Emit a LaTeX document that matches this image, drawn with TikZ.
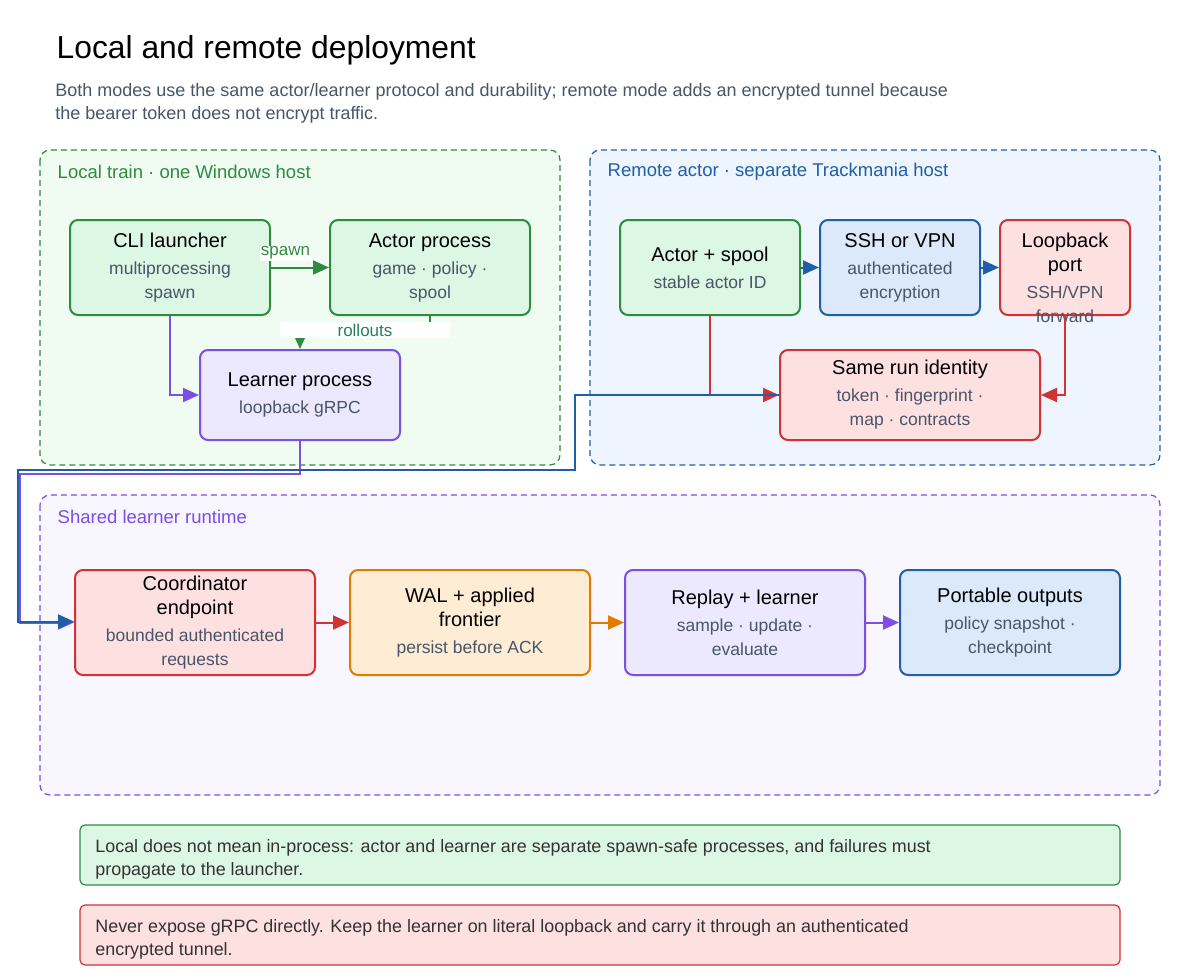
\documentclass[tikz,border=0pt]{standalone}
\usepackage{fontspec}
\setmainfont{Liberation Sans}
\usetikzlibrary{arrows.meta,positioning,calc}
\definecolor{gline}{HTML}{2E8B40}\definecolor{gfill}{HTML}{DCF7E3}
\definecolor{pline}{HTML}{7B4EE6}\definecolor{pfill}{HTML}{ECE8FD}
\definecolor{rline}{HTML}{D03333}\definecolor{rfill}{HTML}{FDE0E0}
\definecolor{oline}{HTML}{E07B00}\definecolor{ofill}{HTML}{FEECD5}
\definecolor{bline}{HTML}{1F5FA8}\definecolor{bfill}{HTML}{DBE9FB}
\definecolor{subtxt}{HTML}{4A5568}
\definecolor{gzone}{HTML}{F0FCF2}\definecolor{bzone}{HTML}{EEF5FE}\definecolor{pzone}{HTML}{F8F6FE}
\newcommand{\bigf}{\fontsize{20}{24}\selectfont}
\newcommand{\smf}{\fontsize{17.5}{23}\selectfont\color{subtxt}}
\begin{document}
\begin{tikzpicture}
[
x=1pt, y=-1pt, thick, >={Triangle[length=16pt,width=14pt]},
block/.style    = {draw=#1, line width=2pt, rounded corners=8pt, align=center, inner sep=2pt, text=black, font=\fontsize{17.5}{24}\selectfont},
group/.style    = {draw=#1, dash pattern=on 6pt off 4pt, line width=1.2pt, rounded corners=10pt},
note/.style     = {draw, line width=1.2pt, rounded corners=5pt},
link/.style     = {line width=2pt, ->},
]
\useasboundingbox (0,0) rectangle (1200,980);
\fill[white] (0,0) rectangle (1200,980);
\node[anchor=west, font=\fontsize{31.8}{36}\selectfont] (title) at (53,50) {Local and remote deployment};
\node[anchor=north west, align=left, text=subtxt, inner sep=0pt, font=\fontsize{18}{23}\selectfont] (sub) at (55,83) {Both modes use the same actor/learner protocol and durability; remote mode adds an encrypted tunnel because\\the bearer token does not encrypt traffic.};

% groups
\draw[group=gline, fill=gzone] (40,150) rectangle (560,465);
\draw[group=bline, fill=bzone] (590,150) rectangle (1160,465);
\draw[group=pline, fill=pzone] (40,495) rectangle (1160,795);
\node[anchor=west, text=gline, font=\fontsize{18.5}{22}\selectfont] (glocal) at (54,172) {Local train · one Windows host};
\node[anchor=west, text=bline, font=\fontsize{18.5}{22}\selectfont] (gremote) at (604,172) {Remote actor · separate Trackmania host};
\node[anchor=west, text=pline, font=\fontsize{18.5}{22}\selectfont] (gshared) at (54,517) {Shared learner runtime};

% local
\node[block=gline, fill=gfill, minimum width=200pt, minimum height=95pt] (cli) at (170,267.5) {\bigf CLI launcher\\[3pt]\smf multiprocessing\\\smf spawn};
\node[block=gline, fill=gfill, minimum width=200pt, minimum height=95pt] (actor) at (430,267.5) {\bigf Actor process\\[3pt]\smf game · policy ·\\\smf spool};
\node[block=pline, fill=pfill, minimum width=200pt, minimum height=90pt] (learner) at (300,395) {\bigf Learner process\\[3pt]\smf loopback gRPC};

% remote
\node[block=gline, fill=gfill, minimum width=180pt, minimum height=95pt] (aspool) at (710,267.5) {\bigf Actor + spool\\[3pt]\smf stable actor ID};
\node[block=bline, fill=bfill, minimum width=160pt, minimum height=95pt] (ssh) at (900,267.5) {\bigf SSH or VPN\\[3pt]\smf authenticated\\\smf encryption};
\node[block=rline, fill=rfill, minimum width=130pt, minimum height=95pt] (loop) at (1065,267.5) {};
\node[align=center, font=\fontsize{17.5}{24}\selectfont] (looptxt) at (1065,278) {\bigf Loopback\\\bigf port\\[3pt]\smf SSH/VPN\\\smf forward};
\node[block=rline, fill=rfill, minimum width=260pt, minimum height=90pt] (runid) at (910,395) {\bigf Same run identity\\[3pt]\smf token · fingerprint ·\\\smf map · contracts};

% shared
\node[block=rline, fill=rfill, minimum width=240pt, minimum height=105pt] (coord) at (195,622.5) {\bigf Coordinator\\\bigf endpoint\\[3pt]\smf bounded authenticated\\\smf requests};
\node[block=oline, fill=ofill, minimum width=240pt, minimum height=105pt] (wal) at (470,622.5) {\bigf WAL + applied\\\bigf frontier\\[3pt]\smf persist before ACK};
\node[block=pline, fill=pfill, minimum width=240pt, minimum height=105pt] (replay) at (745,622.5) {\bigf Replay + learner\\[3pt]\smf sample · update ·\\\smf evaluate};
\node[block=bline, fill=bfill, minimum width=220pt, minimum height=105pt] (out) at (1010,622.5) {\bigf Portable outputs\\[3pt]\smf policy snapshot ·\\\smf checkpoint};

% notes
\draw[note, gline, fill=gfill] (80,825) rectangle (1120,885);
\node[anchor=north west, align=left, inner sep=0pt, text=black!80, font=\fontsize{17.9}{23}\selectfont] (n1) at (95,839) {Local does not mean in-process: actor and learner are separate spawn-safe processes, and failures must\\propagate to the launcher.};
\draw[note, rline, fill=rfill] (80,905) rectangle (1120,965);
\node[anchor=north west, align=left, inner sep=0pt, text=black!80, font=\fontsize{17.9}{23}\selectfont] (n2) at (95,919) {Never expose gRPC directly. Keep the learner on literal loopback and carry it through an authenticated\\encrypted tunnel.};

% connectors
\draw[link, gline] (cli) -- node[above, pos=0.25, fill=white, inner sep=1pt, yshift=6pt, text=gline, font=\fontsize{17}{20}\selectfont] {spawn} (actor);
\draw[link, gline] (actor.south) |- (300,330) node[pos=0.75, fill=white, inner sep=2pt, minimum width=170pt, text=gline!70!bline, font=\fontsize{17}{20}\selectfont] {rollouts} -- (learner.north);
\draw[link, pline] (cli.south) |- (learner.west);
\draw[link, bline] (aspool) -- (ssh);
\draw[link, bline] (ssh) -- (loop);
\draw[link, rline] (aspool.south) |- (runid.west);
\draw[link, rline] (loop.south) |- (runid.east);
\draw[link, pline] (learner.south) -- (300,474) -- (20,474) |- (coord.west);
\draw[link, bline] (runid.west) -- (575,395) -- (575,470) -- (18,470) |- ($(coord.west)+(0,-1)$);
\draw[link, rline] (coord) -- (wal);
\draw[link, oline] (wal) -- (replay);
\draw[link, pline] (replay) -- (out);
\end{tikzpicture}
\end{document}
